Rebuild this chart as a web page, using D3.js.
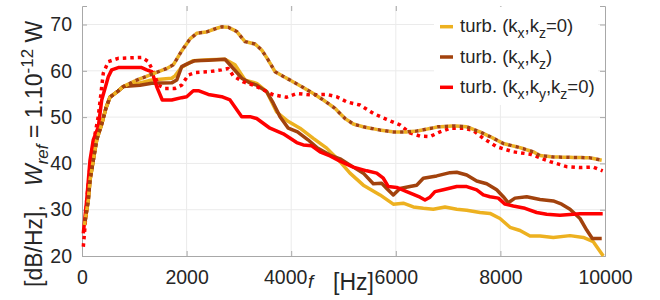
<!DOCTYPE html>
<html lang="en">
  <head>
    <meta charset="UTF-8" />
    <title>Turbulence spectra</title>
    <script src="https://cdnjs.cloudflare.com/ajax/libs/d3/7.8.5/d3.min.js"></script>
    <style>
      body { margin: 0; background: #fff; }
      svg text { font-family: "Liberation Sans", Arial, sans-serif; fill: #262626; }
    </style>
  </head>
  <body>
    <div id="chart"></div>
    <script>
      // frequency [Hz] / level [dB/Hz]
      const fYellow = [48,120,153,216,281,377,459,535,688,790,1109,1333,1715,1778,1906,2128,2415,2734,2925,3117,3340,3531,3722,3939,4168,4422,4679,4933,5124,5379,5698,5952,6143,6335,6526,6717,6941,7165,7356,7610,7801,7992,8183,8375,8566,8757,9011,9331,9585,9776,9967];
      const yYellow = [26.7,32.1,36.4,40.7,45.1,48.5,52.0,54.3,55.6,56.6,57.4,58.0,58.4,58.9,60.8,62.2,62.4,62.5,61.3,58.0,57.3,55.5,51.1,49.1,47.6,45.4,43.3,40.4,37.9,35.3,33.2,31.2,31.4,30.6,30.3,30.1,30.6,30.1,29.9,29.4,29.2,28.1,26.2,25.5,24.3,24.3,24.0,24.4,24.0,23.1,20.0];

      const fBrown = [48,120,153,216,281,377,459,535,688,790,1109,1333,1715,1811,1906,2032,2161,2415,2734,2893,3054,3212,3340,3531,3658,3786,3944,4120,4321,4503,4742,4933,5188,5379,5570,5730,5826,5952,6080,6271,6399,6526,6782,7036,7165,7356,7547,7738,7929,8055,8151,8279,8503,8757,9011,9172,9331,9522,9650,9757,9937];
      const yBrown = [26.7,32.1,36.4,40.7,45.1,48.5,52.0,54.3,55.6,56.6,56.9,57.3,57.4,58.0,60.9,61.6,62.2,62.3,62.5,60.5,58.4,57.4,56.9,55.5,53.0,50.1,47.6,46.8,45.1,43.3,41.8,41.0,39.2,37.9,35.6,35.7,34.6,33.2,34.6,35.0,35.3,36.8,37.3,38.0,38.1,37.5,36.2,35.6,34.3,32.8,31.5,32.5,32.8,32.2,31.9,31.2,30.1,28.1,25.6,23.8,23.8];

      const fRed = [25,90,153,216,312,377,503,568,694,1141,1237,1338,1428,1535,1715,1906,2002,2128,2224,2415,2671,2830,3054,3212,3340,3595,3849,4105,4231,4392,4551,4742,4933,5188,5444,5635,5761,5857,6017,6208,6463,6558,6654,6749,6908,7165,7356,7547,7673,7801,7960,8088,8247,8470,8694,8885,9139,9522,9956];
      const yRed = [24.9,32.1,40.7,45.1,47.9,53.7,58.7,60.2,60.7,60.7,60.2,59.8,56.6,53.7,53.7,54.2,54.4,55.7,55.7,54.9,54.4,53.7,50.1,50.1,49.7,47.6,46.4,44.5,44.0,43.8,42.5,41.6,40.5,39.2,38.4,37.9,36.8,35.0,34.8,33.9,32.7,32.1,32.7,33.9,34.3,35.0,35.0,34.3,33.2,32.8,32.5,31.2,30.8,30.3,29.4,29.0,28.8,29.1,29.1];

      // dotted curves: yellow and brown share one curve
      const fDotYB = [48,120,153,216,281,377,459,535,688,790,1046,1300,1619,1746,1906,2065,2193,2384,2575,2671,2797,2958,3117,3308,3436,3562,3690,3881,4040,4231,4422,4614,4837,5029,5188,5379,5698,5952,6208,6399,6591,6813,7099,7356,7610,7801,8055,8375,8630,8757,9011,9394,9713,9937];
      const yDotYB = [26.7,32.1,36.4,40.7,45.1,48.5,52.0,54.3,55.6,56.6,58.0,59.1,60.5,61.3,64.3,66.9,68.1,68.4,69.2,69.5,69.4,68.5,66.3,65.8,64.5,62.3,59.8,58.6,57.6,56.4,55.1,53.7,51.9,49.7,48.5,47.9,47.2,46.8,46.8,47.0,47.4,47.9,48.1,47.9,46.8,45.8,44.3,43.4,42.5,41.7,41.4,41.3,41.2,40.7];

      const fDotRed = [25,57,90,153,216,312,407,503,694,1141,1268,1363,1459,1587,1778,1906,2032,2161,2415,2671,2797,2893,3084,3275,3466,3658,3914,4105,4359,4679,4870,5061,5315,5570,5826,6080,6271,6463,6654,6845,7036,7290,7482,7673,7929,8247,8566,8948,9267,9522,9776,9956];
      const yDotRed = [22.0,26.3,32.1,39.3,44.3,50.2,59.5,62.0,62.7,62.9,62.0,59.8,56.9,56.2,56.2,56.9,59.1,59.6,59.8,60.2,60.5,58.9,57.6,56.9,55.9,54.8,54.3,55.1,54.8,54.9,54.4,53.3,52.6,50.8,49.5,48.3,46.6,45.9,45.8,46.8,47.6,47.6,47.1,45.4,43.6,42.5,42.0,40.4,39.3,39.1,39.2,38.4];

      const xTicks = [0, 2000, 4000, 6000, 8000, 10000];
      const yTicks = [20, 30, 40, 50, 60, 70];

      const yellow = "#edb120", brown = "#a2420d", red = "#ff0000";

      const width = 660, height = 300;
      const svg = d3.select("#chart").append("svg")
        .attr("width", width).attr("height", height);

      const x = d3.scaleLinear().domain([0, 10000]).range([82, 605]);
      const y = d3.scaleLinear().domain([20, 74]).range([256, 6]);

      // grid
      svg.append("g").selectAll("line").data(xTicks.slice(1, -1)).join("line")
        .attr("x1", d => x(d)).attr("x2", d => x(d))
        .attr("y1", y(74)).attr("y2", y(20))
        .attr("stroke", "#ebebeb").attr("stroke-width", 1);
      svg.append("g").selectAll("line").data(yTicks.slice(1)).join("line")
        .attr("x1", x(0)).attr("x2", x(10000))
        .attr("y1", d => y(d)).attr("y2", d => y(d))
        .attr("stroke", "#ebebeb").attr("stroke-width", 1);

      // axes (ticks inside, MATLAB style)
      const axisCol = "#a8a8a8";
      const gBottom = svg.append("g").attr("transform", `translate(0,${y(20)})`)
        .call(d3.axisBottom(x).tickValues(xTicks).tickSize(-5).tickPadding(12).tickFormat(d3.format("d")));
      const gLeft = svg.append("g").attr("transform", `translate(${x(0)},0)`)
        .call(d3.axisLeft(y).tickValues(yTicks).tickSize(-5).tickPadding(10));
      const gTop = svg.append("g").attr("transform", `translate(0,${y(74)})`)
        .call(d3.axisTop(x).tickValues(xTicks).tickSize(-5).tickFormat(""));
      const gRight = svg.append("g").attr("transform", `translate(${x(10000)},0)`)
        .call(d3.axisRight(y).tickValues(yTicks).tickSize(-5).tickFormat(""));
      [gBottom, gLeft, gTop, gRight].forEach(g => {
        g.selectAll("line").attr("stroke", axisCol);
        g.selectAll("path").attr("stroke", axisCol);
        g.selectAll("text").attr("font-size", 19.5).attr("fill", "#262626")
          .attr("font-family", "Liberation Sans, Arial, sans-serif");
      });
      gTop.select("path").remove();
      gTop.selectAll(".tick").filter(d => d === 0 || d === 10000).remove();
      gBottom.selectAll("text").attr("dy", "0.8em");
      // the 4000 label sits a bit left of its tick in the original
      gBottom.selectAll(".tick text").filter(d => d === 4000).attr("dx", -6);

      // curves
      const line = d3.line().x(d => x(d[0])).y(d => y(d[1]));
      const pts = (f, v) => f.map((d, i) => [d, v[i]]);

      const series = [
        { data: pts(fYellow, yYellow), color: yellow },
        { data: pts(fBrown, yBrown), color: brown },
        { data: pts(fRed, yRed), color: red },
        { data: pts(fDotRed, yDotRed), color: red, dash: "3.5 4" },
        { data: pts(fDotYB, yDotYB), color: yellow, dash: "4 3.5" },
        { data: pts(fDotYB, yDotYB), color: brown, dash: "3.5 4", offset: -4 },
      ];
      svg.append("g").selectAll("path").data(series).join("path")
        .attr("d", d => line(d.data))
        .attr("fill", "none")
        .attr("stroke", d => d.color)
        .attr("stroke-width", 3.5)
        .attr("stroke-linejoin", "round")
        .attr("stroke-dasharray", d => d.dash || null)
        .attr("stroke-dashoffset", d => d.offset || 0);

      // legend
      const legendLabels = [
        [["turb. (k"], ["x", 1], [",k"], ["z", 1], ["=0)"]],
        [["turb. (k"], ["x", 1], [",k"], ["z", 1], [")"]],
        [["turb. (k"], ["x", 1], [",k"], ["y", 1], [",k"], ["z", 1], ["=0)"]],
      ];
      const legendColors = [yellow, brown, red];
      const lg = svg.append("g");
      lg.append("rect").attr("x", 434).attr("y", 7).attr("width", 164).attr("height", 98).attr("fill", "#fff");
      legendLabels.forEach((parts, i) => {
        const cy = 26.7 + i * 30.3;
        lg.append("line").attr("x1", 440).attr("x2", 453).attr("y1", cy).attr("y2", cy)
          .attr("stroke", legendColors[i]).attr("stroke-width", 3.5);
        const t = lg.append("text").attr("x", 460).attr("y", cy + 5.5).attr("font-size", 18.5);
        let low = false;
        parts.forEach(([s, sub]) => {
          const ts = t.append("tspan").text(s);
          if (sub && !low) { ts.attr("dy", 6).attr("font-size", 14); low = true; }
          else if (sub) { ts.attr("font-size", 14); }
          else if (low) { ts.attr("dy", -6); low = false; }
        });
      });

      // axis labels
      svg.append("text").attr("x", 308).attr("y", 288).attr("font-size", 19)
        .attr("font-style", "italic").text("f");
      svg.append("text").attr("x", 333).attr("y", 290).attr("font-size", 23).text("[Hz]");

      const yl = svg.append("text").attr("transform", "translate(42,287) rotate(-90)").attr("font-size", 23);
      yl.append("tspan").text("[dB/Hz],\u00a0\u00a0 ");
      yl.append("tspan").attr("font-style", "italic").text("W");
      yl.append("tspan").attr("font-style", "italic").attr("font-size", 17).attr("dy", 6).text("ref");
      yl.append("tspan").attr("dy", -6).text(" = 1.10");
      yl.append("tspan").attr("font-size", 17).attr("dy", -9).text("-12");
      yl.append("tspan").attr("dy", 9).text(" W");
    </script>
  </body>
</html>
